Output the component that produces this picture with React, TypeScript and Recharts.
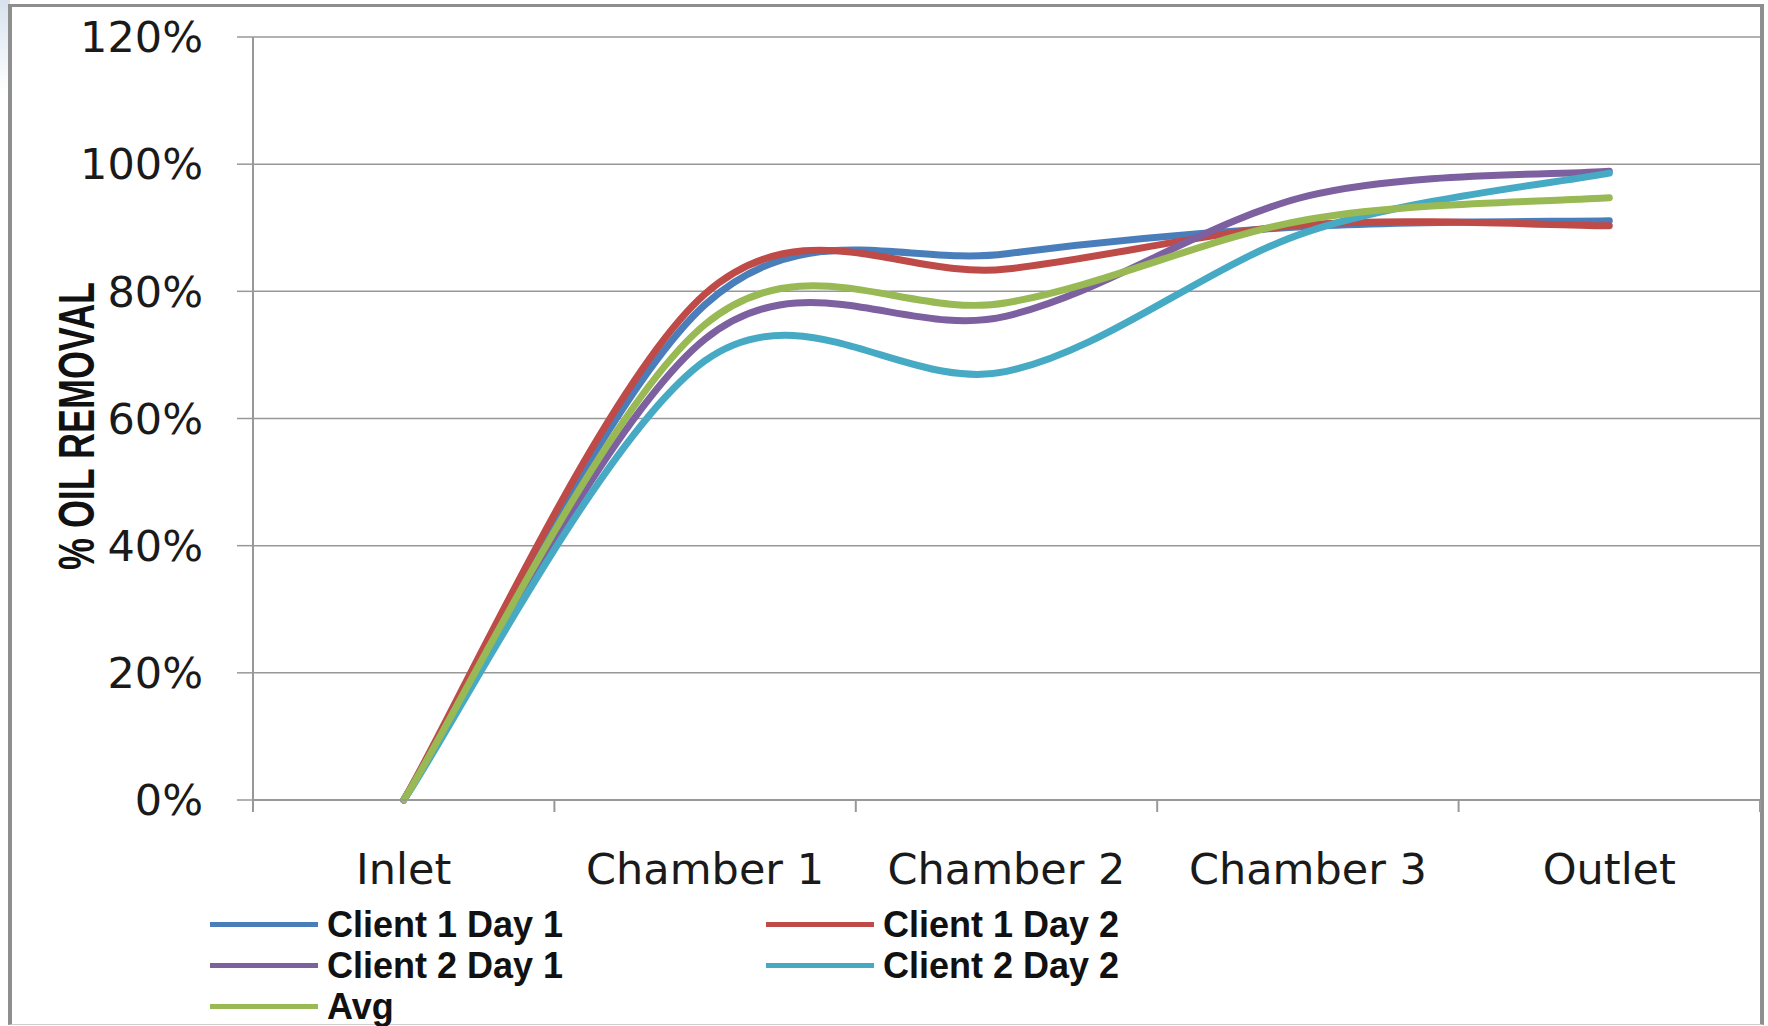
import { LineChart, Line, XAxis, YAxis, CartesianGrid, Legend, Label } from "recharts";

const stages = ["Inlet", "Chamber 1", "Chamber 2", "Chamber 3", "Outlet"];
const client1Day1 = [0, 77.9, 85.9, 90.2, 91.1];
const client1Day2 = [0, 79.6, 83.5, 90.5, 90.3];
const client2Day1 = [0, 72.5, 76.1, 95.0, 98.9];
const client2Day2 = [0, 69.1, 67.4, 89.4, 98.6];
const avg = [0, 74.8, 78.2, 91.3, 94.7];
const yTicks = [0, 20, 40, 60, 80, 100, 120];

const seriesList = [
  { key: "c1d1", name: "Client 1 Day 1", values: client1Day1, color: "#4A7EBB" },
  { key: "c1d2", name: "Client 1 Day 2", values: client1Day2, color: "#BE4B48" },
  { key: "c2d1", name: "Client 2 Day 1", values: client2Day1, color: "#7D60A0" },
  { key: "c2d2", name: "Client 2 Day 2", values: client2Day2, color: "#46AAC5" },
  { key: "avg", name: "Avg", values: avg, color: "#98B954" },
];

const data = stages.map((stage, i) => {
  const row: Record<string, string | number> = { stage };
  seriesList.forEach((s) => (row[s.key] = s.values[i]));
  return row;
});

const W = 1768;
const H = 1026;
const PLOT_LEFT = 253;
const PLOT_RIGHT = 1760;
const HALF_BAND = (PLOT_RIGHT - PLOT_LEFT) / stages.length / 2;
const GRID = "#989898";

// excel-like smoothed line (catmull-rom through every point)
function excelSmooth(context: any) {
  let pts: number[][] = [];
  return {
    areaStart() {},
    areaEnd() {},
    lineStart() {
      pts = [];
    },
    point(x: number, y: number) {
      pts.push([+x, +y]);
    },
    lineEnd() {
      if (!pts.length) return;
      context.moveTo(pts[0][0], pts[0][1]);
      for (let i = 0; i < pts.length - 1; i++) {
        const p0 = pts[Math.max(0, i - 1)];
        const p1 = pts[i];
        const p2 = pts[i + 1];
        const p3 = pts[Math.min(pts.length - 1, i + 2)];
        context.bezierCurveTo(
          p1[0] + (p2[0] - p0[0]) / 6,
          p1[1] + (p2[1] - p0[1]) / 6,
          p2[0] - (p3[0] - p1[0]) / 6,
          p2[1] - (p3[1] - p1[1]) / 6,
          p2[0],
          p2[1]
        );
      }
    },
  };
}

function StageTick(props: any) {
  const { x, y, payload, index } = props;
  const half = payload && payload.offset > 0 ? payload.offset : HALF_BAND;
  const last = index === stages.length - 1;
  return (
    <g>
      <line x1={x - half} x2={x - half} y1={y - 12} y2={y} stroke={GRID} strokeWidth={2} />
      {last && <line x1={x + half} x2={x + half} y1={y - 12} y2={y} stroke={GRID} strokeWidth={2} />}
      <text
        x={x}
        y={y + 72}
        textAnchor="middle"
        fontFamily="DejaVu Sans"
        fontSize={43}
        fill="#1a1a1a"
      >
        {payload.value}
      </text>
    </g>
  );
}

function renderLegend() {
  return (
    <div
      style={{
        display: "grid",
        gridTemplateColumns: "556px 556px",
        gridAutoRows: "41px",
        paddingLeft: 210,
      }}
    >
      {seriesList.map((s) => (
        <div key={s.key} style={{ display: "flex", alignItems: "center" }}>
          <span style={{ display: "inline-block", width: 108, height: 5, background: s.color }} />
          <span
            style={{
              marginLeft: 9,
              fontFamily: "Liberation Sans",
              fontWeight: "bold",
              fontSize: 36,
              color: "#111",
              lineHeight: "41px",
              whiteSpace: "nowrap",
            }}
          >
            {s.name}
          </span>
        </div>
      ))}
    </div>
  );
}

export default function App() {
  return (
    <div style={{ position: "absolute", left: 0, top: 0, width: W, height: H, background: "#fff", overflow: "hidden" }}>
      <div
        style={{
          position: "absolute",
          left: 0,
          top: 0,
          width: 10,
          height: 95,
          background: "linear-gradient(#d7e2ee, #ffffff)",
        }}
      />
      <div
        style={{
          position: "absolute",
          left: 8,
          top: 4,
          width: 1756,
          height: 1021,
          boxSizing: "border-box",
          borderTop: "3px solid #8e8e8e",
          borderLeft: "4px solid #8e8e8e",
          borderRight: "4px solid #8e8e8e",
          borderBottom: "1px solid #cfcfcf",
          background: "#fff",
        }}
      />
      <div style={{ position: "absolute", left: 0, top: 0 }}>
        <LineChart width={W} height={H} data={data} margin={{ top: 37, right: W - PLOT_RIGHT, left: 0, bottom: 0 }}>
          <CartesianGrid vertical={false} stroke={GRID} strokeWidth={1.5} />
          <XAxis
            dataKey="stage"
            scale="band"
            height={H - 800}
            interval={0}
            tickSize={12}
            tickMargin={0}
            tickLine={false}
            axisLine={{ stroke: GRID, strokeWidth: 2 }}
            tick={<StageTick />}
          />
          <YAxis
            domain={[0, 120]}
            ticks={yTicks}
            tickFormatter={(v) => `${v}%`}
            width={PLOT_LEFT}
            tickSize={16}
            tickMargin={34}
            axisLine={{ stroke: GRID, strokeWidth: 2 }}
            tickLine={{ stroke: GRID, strokeWidth: 1.5 }}
            tick={{ fontFamily: "DejaVu Sans", fontSize: 43, fill: "#1a1a1a" }}
          >
            <Label
              content={() => (
                <text
                  x={77}
                  y={426}
                  transform="rotate(-90 77 426)"
                  textAnchor="middle"
                  dominantBaseline="central"
                  fontFamily="Liberation Sans"
                  fontWeight="bold"
                  fontSize={50}
                  textLength={288}
                  lengthAdjust="spacingAndGlyphs"
                  fill="#111"
                >
                  % OIL REMOVAL
                </text>
              )}
            />
          </YAxis>
          <Legend
            layout="horizontal"
            verticalAlign="middle"
            align="center"
            wrapperStyle={{ left: 0, top: 904, width: 1200, height: 123 }}
            content={renderLegend}
          />
          {seriesList.map((s) => (
            <Line
              key={s.key}
              dataKey={s.key}
              name={s.name}
              type={excelSmooth as any}
              stroke={s.color}
              strokeWidth={7}
              strokeLinecap="round"
              dot={false}
              activeDot={false}
              isAnimationActive={false}
            />
          ))}
        </LineChart>
      </div>
    </div>
  );
}
